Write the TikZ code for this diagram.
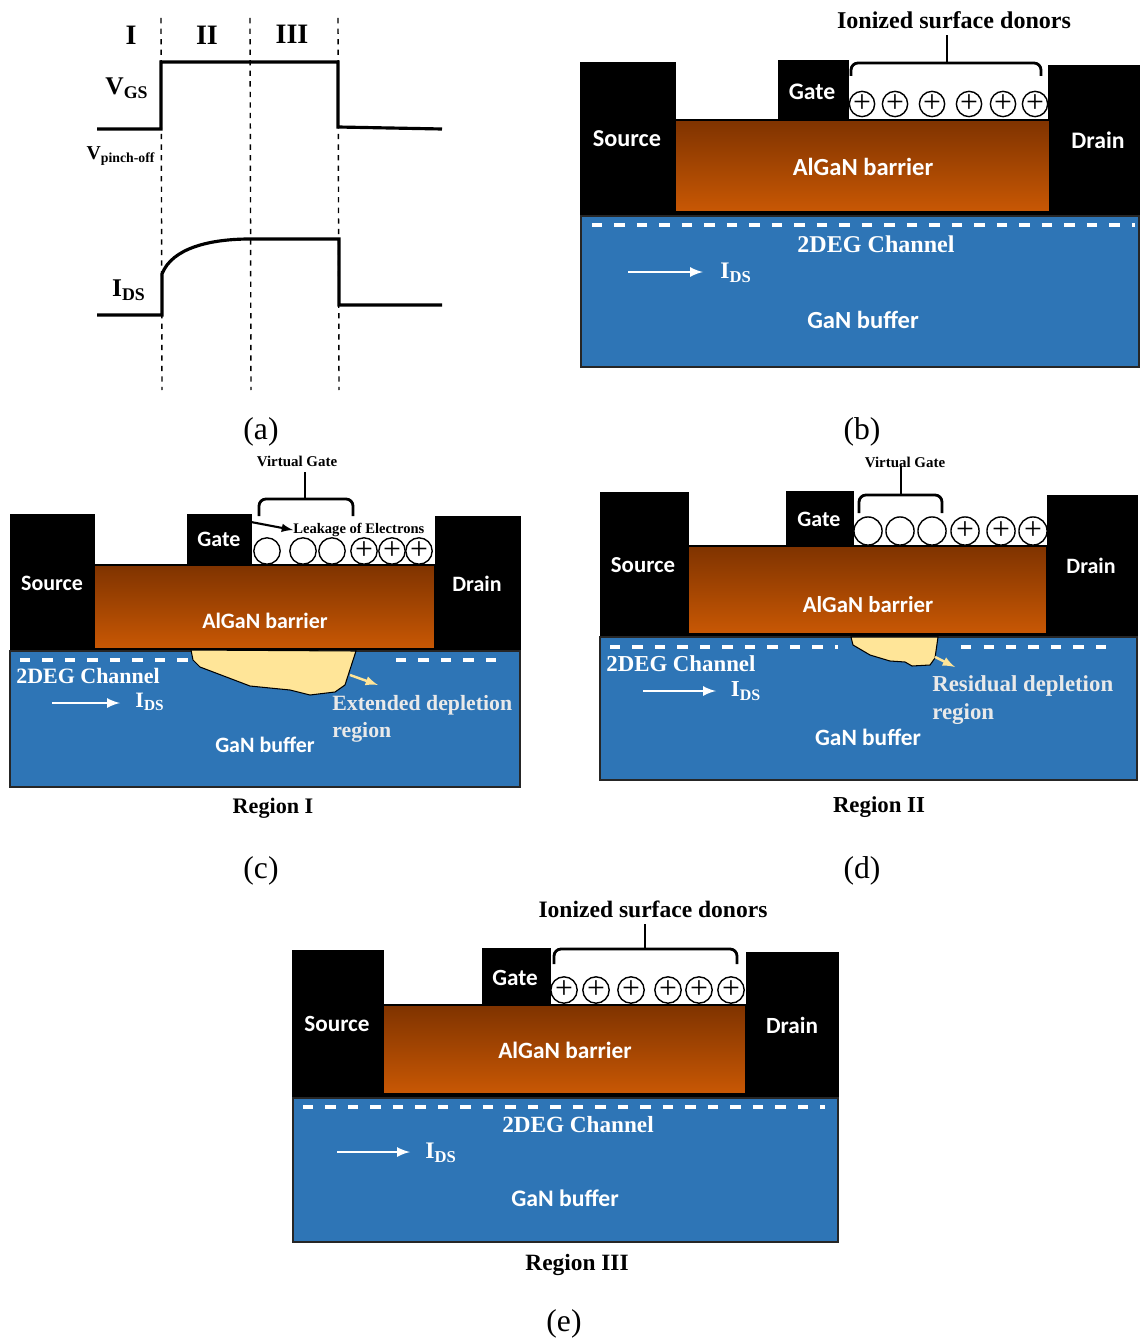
\documentclass[tikz,border=0pt]{standalone}
\usepackage{fontspec}
\setmainfont{Liberation Serif}
\newfontfamily\calibrifont{Carlito}
\definecolor{gantop}{HTML}{2E75B6}
\definecolor{algantop}{HTML}{7F3300}
\definecolor{alganbot}{HTML}{C95804}
\definecolor{deplfill}{HTML}{FFE598}
\definecolor{regtext}{HTML}{E9E9E9}

\tikzset{
  metal/.style={fill=black,draw=black},
  barrier/.style={top color=algantop,bottom color=alganbot,draw=black,line width=0.6},
  buffer/.style={fill=gantop,draw=black!85,line width=1.3},
  channel/.style={draw=white,line width=2,dash pattern=on 5.9pt off 6.9pt},
  flow/.style={draw=white,line width=1.5,-latex},
  depl/.style={fill=deplfill,draw=black,line width=0.6},
  spread/.style={draw=deplfill,line width=1.4,-latex},
  bracket/.style={draw=black,line width=1.6,rounded corners=4pt},
  pulse/.style={draw=black,line width=1.8},
  marker/.style={draw=black,line width=0.8,dashed},
  donor/.style={circle,draw=black,line width=0.8,fill=white,minimum size=#1,inner sep=0pt,font=\fontsize{18}{18}\selectfont},
  lab/.style={inner sep=0pt,text=white,font=\calibrifont\bfseries\fontsize{#1}{#1}\selectfont},
  ser/.style={inner sep=0pt,font=\bfseries\fontsize{#1}{#1}\selectfont},
  serw/.style={ser=#1,text=white},
  subcap/.style={inner sep=0pt,font=\fontsize{18}{18}\selectfont},
}

\begin{document}
\begin{tikzpicture}[x=0.02cm,y=-0.02cm]
\useasboundingbox (0,0) rectangle (1139,1341);

% (a) waveforms
\coordinate (m1t) at (161,18);  \coordinate (m1b) at (162,390);
\coordinate (m2t) at (250,18);  \coordinate (m2b) at (251,390);
\coordinate (m3t) at (338,18);  \coordinate (m3b) at (339,390);
\draw[marker] (m1t) -- (m1b);
\draw[marker] (m2t) -- (m2b);
\draw[marker] (m3t) -- (m3b);
\draw[pulse] (97,129) -- (161,129) -- (161,62) -- (338,62) -- (338,127) -- (442,129);
\draw[pulse] (97,315) -- (162,315) -- (162,274) .. controls (172,248) and (210,239) .. (250,239) -- (339,239) -- (339,305) -- (442,305);
\node[ser=16] (r1) at (131,35) {I};
\node[ser=16] (r2) at (207,35) {II};
\node[ser=16] (r3) at (292,34) {III};
\node[ser=14.5] (vgs) at (127,88) {V\textsubscript{GS}};
\node[ser=11.2] (vpo) at (121,156) {V\textsubscript{pinch-off}};
\node[ser=14.5] (ids) at (129,290) {I\textsubscript{DS}};
\node[subcap] (capa) at (261,432) {(a)};

% (b) ionized donors
\fill[metal] (580,62) rectangle (675,218);
\fill[metal] (1048,65) rectangle (1139,218);
\fill[metal] (778,60) rectangle (848,120);
\fill[metal] (675,212) rectangle (1050,217);
\shade[barrier] (675,120) rectangle (1050,212);
\filldraw[buffer] (581,216) rectangle (1139,367);
\draw[channel] (592,225) -- (1135,225);
\foreach \x [count=\i] in {862,895,932,969,1003,1035}
  \node[donor=13.5pt] (bd\i) at (\x,104) {+};
\draw[bracket] (851,76) -- (851,63) -- (1041,63) -- (1041,76);
\draw[bracket] (947,63) -- (947,35);
\node[ser=13.7] (bion) at (954,20) {Ionized surface donors};
\node[lab=13.8] (bsrc) at (627,139) {Source};
\node[lab=13.5] (bdrn) at (1098,140) {Drain};
\node[lab=13.5] (bgat) at (812,92) {Gate};
\node[lab=14] (balg) at (863,167) {AlGaN barrier};
\node[serw=13.7] (b2deg) at (876,244) {2DEG Channel};
\coordinate (bf1) at (628,272);
\coordinate (bf2) at (703,272);
\draw[flow] (bf1) -- (bf2);
\node[serw=13.5] (bids) at (736,273) {I\textsubscript{DS}};
\node[lab=14] (bgan) at (863,320) {GaN buffer};
\node[subcap] (capb) at (862,432) {(b)};

% (c) region I
\fill[metal] (10,514) rectangle (94,651);
\fill[metal] (435,516) rectangle (520,651);
\fill[metal] (187,514) rectangle (251,565);
\fill[metal] (94,649) rectangle (435,652);
\shade[barrier] (94,565) rectangle (435,649);
\filldraw[buffer] (10,651) rectangle (520,787);
\draw[channel] (20,660) -- (190,660);
\draw[channel] (396,660) -- (497,660);
\filldraw[depl] (191,650) -- (193,660) -- (200,667) -- (250,686) -- (290,690) -- (310,695) -- (335,692) -- (345,685) -- (356,651) -- cycle;
\coordinate (cs1) at (350,675);
\coordinate (cs2) at (378,685);
\draw[spread] (cs1) -- (cs2);
\foreach \x [count=\i] in {267,303,332}
  \node[donor=15pt] (ct\i) at (\x,551) {};
\foreach \x [count=\i] in {364,392,419}
  \node[donor=15pt] (cd\i) at (\x,551) {+};
\draw[bracket] (259,516) -- (259,499) -- (353,499) -- (353,516);
\draw[bracket] (305,499) -- (305,472);
\node[ser=8.5] (cvg) at (297,461) {Virtual Gate};
\node[ser=8.3,anchor=west] (cleak) at (293,530) {Leakage of Electrons};
\coordinate (cl1) at (251,522);
\draw[line width=1.2,-latex] (cl1) -- (cleak.west);
\node[lab=12.5] (csrc) at (52,583) {Source};
\node[lab=12.5] (cdrn) at (477,584) {Drain};
\node[lab=12.5] (cgat) at (219,539) {Gate};
\node[lab=12.5] (calg) at (265,621) {AlGaN barrier};
\node[serw=12.5,anchor=west] (c2deg) at (16,676) {2DEG Channel};
\coordinate (cf1) at (52,703);
\coordinate (cf2) at (120,703);
\draw[flow] (cf1) -- (cf2);
\node[serw=12.5] (cids) at (150,702) {I\textsubscript{DS}};
\node[ser=12.4,text=regtext,anchor=west] (cext) at (332,705) {Extended depletion};
\node[ser=12.4,text=regtext,anchor=west] (cext2) at (332,732) {region};
\node[lab=12.5] (cgan) at (265,745) {GaN buffer};
\node[ser=12.6] (creg) at (273,808) {Region I};
\node[subcap] (capc) at (261,871) {(c)};

% (d) region II
\fill[metal] (600,492) rectangle (688,636);
\fill[metal] (1047,495) rectangle (1137,636);
\fill[metal] (786,491) rectangle (853,546);
\fill[metal] (688,634) rectangle (1047,638);
\shade[barrier] (688,546) rectangle (1047,634);
\filldraw[buffer] (600,637) rectangle (1137,780);
\draw[channel] (610,647) -- (838,647);
\draw[channel] (961,647) -- (1118,647);
\filldraw[depl] (851,637) -- (853,645) -- (870,655) -- (890,661) -- (905,662) -- (912,666) -- (930,665) -- (935,658) -- (938,637) -- cycle;
\coordinate (ds1) at (935,657);
\coordinate (ds2) at (955,667);
\draw[spread] (ds1) -- (ds2);
\foreach \x [count=\i] in {868,900,932}
  \node[donor=16pt] (dt\i) at (\x,531) {};
\foreach \x [count=\i] in {965,1001,1033}
  \node[donor=16pt] (dd\i) at (\x,531) {+};
\draw[bracket] (859,513) -- (859,495) -- (942,495) -- (942,513);
\draw[bracket] (901,495) -- (901,466);
\node[ser=8.5] (dvg) at (905,462) {Virtual Gate};
\node[lab=13] (dsrc) at (643,565) {Source};
\node[lab=12.5] (ddrn) at (1091,566) {Drain};
\node[lab=12.5] (dgat) at (819,519) {Gate};
\node[lab=13] (dalg) at (868,605) {AlGaN barrier};
\node[serw=13,anchor=west] (d2deg) at (606,664) {2DEG Channel};
\coordinate (df1) at (643,691);
\coordinate (df2) at (716,691);
\draw[flow] (df1) -- (df2);
\node[serw=13] (dids) at (746,691) {I\textsubscript{DS}};
\node[ser=13,text=regtext,anchor=west] (dres) at (932,686) {Residual depletion};
\node[ser=13,text=regtext,anchor=west] (dres2) at (932,714) {region};
\node[lab=13.3] (dgan) at (868,737) {GaN buffer};
\node[ser=13] (dreg) at (879,807) {Region II};
\node[subcap] (capd) at (862,871) {(d)};

% (e) region III
\fill[metal] (292,950) rectangle (383,1097);
\fill[metal] (746,952) rectangle (838,1097);
\fill[metal] (482,948) rectangle (550,1007);
\fill[metal] (383,1094) rectangle (746,1099);
\shade[barrier] (383,1005) rectangle (746,1094);
\filldraw[buffer] (293,1098) rectangle (838,1242);
\draw[channel] (303,1107) -- (825,1107);
\foreach \x [count=\i] in {564,596,631,668,699,731}
  \node[donor=15pt] (ed\i) at (\x,990) {+};
\draw[bracket] (554,964) -- (554,949) -- (737,949) -- (737,964);
\draw[bracket] (645,949) -- (645,924);
\node[ser=13.4] (eion) at (653,909) {Ionized surface donors};
\node[lab=13.2] (esrc) at (337,1024) {Source};
\node[lab=13.2] (edrn) at (792,1025) {Drain};
\node[lab=13.2] (egat) at (515,978) {Gate};
\node[lab=13.3] (ealg) at (565,1050) {AlGaN barrier};
\node[serw=13.2] (e2deg) at (578,1125) {2DEG Channel};
\coordinate (ef1) at (337,1152);
\coordinate (ef2) at (410,1152);
\draw[flow] (ef1) -- (ef2);
\node[serw=13.5] (eids) at (441,1153) {I\textsubscript{DS}};
\node[lab=13.5] (egan) at (565,1198) {GaN buffer};
\node[ser=13.3] (ereg) at (577,1265) {Region III};
\node[subcap] (cape) at (564,1324) {(e)};

\end{tikzpicture}
\end{document}
